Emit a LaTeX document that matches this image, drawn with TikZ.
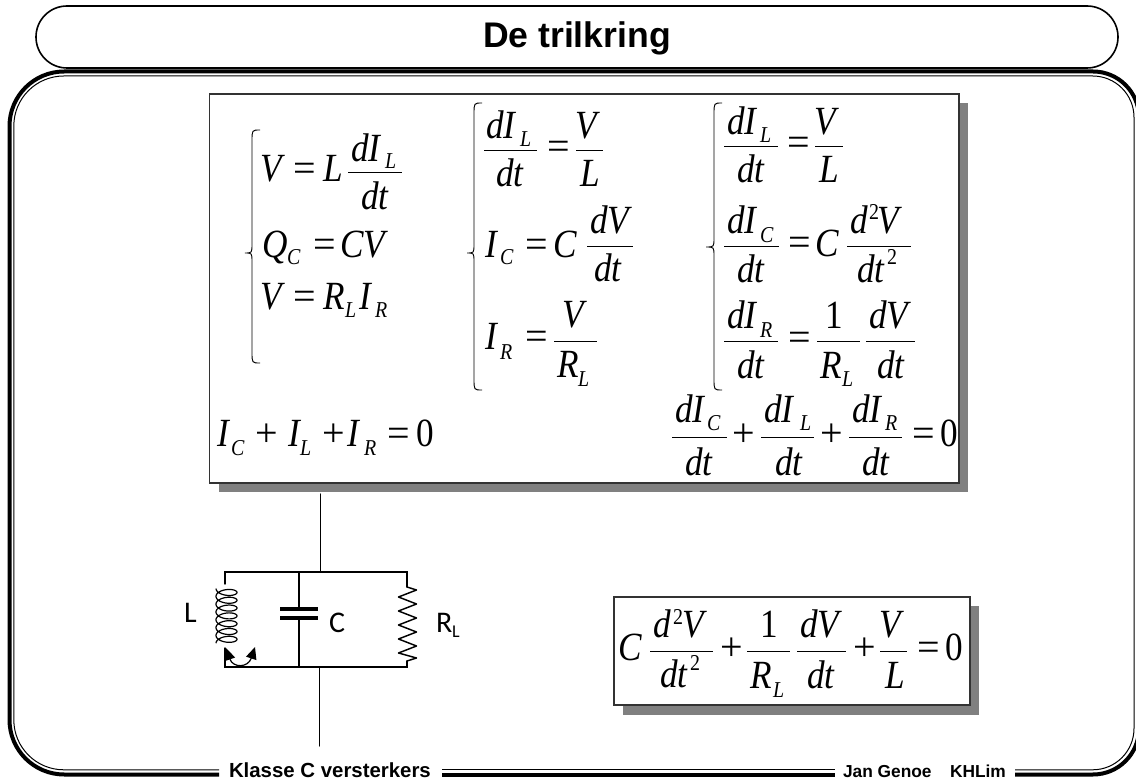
\documentclass[tikz,border=0pt]{standalone}
\usepackage{fontspec}
\usetikzlibrary{arrows.meta}
\setmainfont{Liberation Serif}
\newfontfamily\eqfont[FakeStretch=0.88]{Liberation Serif}
\newfontfamily\hd{Liberation Sans}
\newfontfamily\cb{Carlito}
\newcount\tnum
\tikzset{
  txt/.style={inner sep=0pt,outer sep=0pt,anchor=base west},
  framecurve/.style={line join=round},
  rule/.style={line width=0.75pt,black},
  wire/.style={line width=1.1pt,black,line cap=round},
  bracepath/.style={line width=0.7pt,black},
  eqbox/.style={draw=black!80,line width=0.8pt,fill=white},
  shadowbox/.style={fill=black!50,draw=none},
}
\newcommand{\putt}[4]{\global\advance\tnum by 1\relax
  \node[txt] (t\the\tnum) at (#2,#3) {#1#4};}
\newcommand{\eqbig}{\eqfont\fontsize{30}{30}\selectfont}
\newcommand{\eqsm}{\eqfont\fontsize{17}{17}\selectfont}
\newcommand{\mi}[3]{\putt{\eqbig\itshape}{#1}{#2}{#3}}
\newcommand{\mr}[3]{\putt{\eqbig}{#1}{#2}{#3}}
\newcommand{\op}[3]{\putt{\rmfamily\fontsize{30}{30}\selectfont}{#1}{#2}{#3}}
\newcommand{\si}[3]{\putt{\eqsm\itshape}{#1}{#2}{#3}}
\newcommand{\sr}[3]{\putt{\eqsm}{#1}{#2}{#3}}
\newcommand{\fl}[3]{\draw[rule] (#1,#3) -- (#2,#3);}
\newcommand{\brc}[6]{%
  \pgfmathsetmacro{\ba}{#4+11}\pgfmathsetmacro{\bb}{#5-9}\pgfmathsetmacro{\bc}{#5+9}\pgfmathsetmacro{\bd}{#6-11}%
  \draw[bracepath] (#3,#4) .. controls (#2,#4) and (#2,#4) .. (#2,\ba) -- (#2,\bb)
    .. controls (#2,#5) and (#2,#5) .. (#1,#5) .. controls (#2,#5) and (#2,#5) .. (#2,\bc)
    -- (#2,\bd) .. controls (#2,#6) and (#2,#6) .. (#3,#6);}
\begin{document}
\begin{tikzpicture}[x=0.75pt,y=-0.75pt]
\useasboundingbox (0,0) rectangle (1136,780);
\fill[white] (0,0) rectangle (1136,780);
% title
\draw[line width=1.2pt,black,rounded corners=23.2pt] (577,6) -- (1118,6) -- (1118,68) -- (36,68) -- (36,6) -- cycle;
\node[txt,anchor=base] (title) at (577,48) {\hd\bfseries\fontsize{26.7}{27}\selectfont De trilkring};
% frame
\draw[line width=3pt,black,framecurve,rounded corners=41pt] (219,774.5) -- (9.5,774.5) -- (9.5,71.5) -- (600,71.5) [rounded corners=34.5pt] -- (1139,71.5) -- (1139,774.5) -- (1015,774.5);
\draw[line width=0.75pt,black,framecurve,rounded corners=37.5pt] (219,769.8) -- (13.8,769.8) -- (13.8,76) -- (600,76) [rounded corners=31pt] -- (1134,76) -- (1134,769.8) -- (1015,769.8);
\draw[line width=3pt,black] (442,774.5) -- (835,774.5);
\draw[line width=0.75pt,black] (442,769.8) -- (835,769.8);
\node[txt] (foot1) at (229,777.5) {\hd\bfseries\fontsize{15.3}{16}\selectfont Klasse C versterkers};
\node[txt] (foot2) at (843,777.5) {\hd\bfseries\fontsize{13}{14}\selectfont Jan Genoe};
\node[txt] (foot3) at (950,777.5) {\hd\bfseries\fontsize{13}{14}\selectfont KHLim};
% box 1
\fill[shadowbox] (219,103) rectangle (968,492);
\draw[eqbox] (209.5,94) rectangle (959,483);
% box 2
\fill[shadowbox] (623,606) rectangle (979,715);
\draw[eqbox] (614,597) rectangle (970,705);
% braces
\brc{245}{252}{260}{130}{253}{363}
\brc{467}{474}{482}{103}{253}{390}
\brc{706}{714}{722}{103}{247}{390}
% column 1
\mi{260}{182}{V}\op{293}{182}{=}\mi{323}{182}{L}
\mi{351}{162}{dI}\si{385}{169}{L}\fl{348}{402}{173}\mi{361}{210}{dt}
\mi{262}{258}{Q}\si{287}{265}{C}\op{313}{258}{=}\mi{340}{258}{CV}
\mi{260}{310}{V}\op{293}{310}{=}\mi{323}{310}{R}\si{345}{318}{L}\mi{359}{310}{I}\si{375}{318}{R}
% column 2
\mi{486}{139}{dI}\si{520}{147}{L}\fl{484}{537}{151}\mi{496}{187}{dt}\op{547}{160}{=}
\mi{575}{139}{V}\fl{576}{603}{151}\mi{580}{187}{L}
\mi{485}{258}{I}\si{500}{265}{C}\op{525}{258}{=}\mi{553}{258}{C}
\mi{590}{234}{dV}\fl{587}{633}{247}\mi{594}{282}{dt}
\mi{485}{350}{I}\si{500}{360}{R}\op{525}{350}{=}
\mi{562}{328}{V}\fl{554}{597}{342}\mi{557}{378}{R}\si{578}{387}{L}
% column 3
\mi{727}{135}{dI}\si{760}{143}{L}\fl{724}{778}{147}\mi{737}{183}{dt}\op{787}{156}{=}
\mi{814}{135}{V}\fl{815}{843}{147}\mi{819}{183}{L}
\mi{727}{234}{dI}\si{760}{243}{C}\fl{724}{779}{247}\mi{737}{283}{dt}\op{788}{256}{=}\mi{815}{257}{C}
\mi{850}{234}{d}\sr{869}{220}{2}\mi{877}{234}{V}\fl{847}{911}{247}\mi{857}{283}{dt}\sr{887}{265}{2}
\mi{727}{329}{dI}\si{760}{338}{R}\fl{724}{778}{342}\mi{737}{379}{dt}\op{788}{351}{=}
\mr{825}{329}{1}\fl{817}{860}{342}\mi{820}{379}{R}\si{842}{387}{L}
\mi{869}{329}{dV}\fl{866}{915}{342}\mi{877}{379}{dt}
% bottom row
\mi{217}{447}{I}\si{231}{456}{C}\op{255}{447}{+}\mi{288}{447}{I}\si{300}{456}{L}\op{322}{447}{+}\mi{347}{447}{I}\si{364}{456}{R}\op{387}{447}{=}\mr{416}{447}{0}
\mi{675}{423}{dI}\si{707}{431}{C}\fl{672}{727}{438}\mi{685}{476}{dt}\op{732}{447}{+}
\mi{764}{423}{dI}\si{800}{431}{L}\fl{761}{814}{438}\mi{775}{476}{dt}\op{820}{447}{+}
\mi{852}{423}{dI}\si{885}{431}{R}\fl{849}{902}{438}\mi{862}{476}{dt}\op{912}{447}{=}\mr{940}{447}{0}
% box 2 equation
\mi{618}{660}{C}
\mi{653}{638}{d}\sr{673}{624}{2}\mi{682}{638}{V}\fl{650}{713}{651}\mi{660}{687}{dt}\sr{690}{670}{2}
\op{720}{660}{+}
\mr{760}{638}{1}\fl{747}{790}{651}\mi{750}{688}{R}\si{773}{697}{L}
\mi{800}{638}{dV}\fl{797}{846}{651}\mi{807}{688}{dt}
\op{853}{660}{+}
\mi{879}{638}{V}\fl{880}{907}{651}\mi{885}{688}{L}
\op{917}{660}{=}\mr{945}{660}{0}
% circuit
\coordinate (topT) at (320.3,494);\coordinate (topJ) at (320.3,572);
\coordinate (botJ) at (319.4,667);\coordinate (botT) at (319.4,746);
\coordinate (tl) at (225,572);\coordinate (tr) at (407,572);
\coordinate (bl) at (225,667);\coordinate (br) at (407,667);
\coordinate (ct) at (299,572);\coordinate (cb) at (299,667);
\coordinate (cp1) at (299,609);\coordinate (cp2) at (299,618);
\coordinate (lc1) at (225,584);\coordinate (lc2) at (225,648);
\coordinate (r1) at (407,587);\coordinate (r2) at (407,661);
\draw[wire] (topT) -- (topJ);
\draw[wire] (botJ) -- (botT);
\draw[wire] (lc1) -- (tl) -- (tr) -- (r1);
\draw[wire] (lc2) -- (bl) -- (br) -- (r2);
\draw[wire] (ct) -- (cp1);
\draw[wire] (cp2) -- (cb);
\draw[line width=3pt,black] (280,609) -- (318,609);
\draw[line width=3pt,black] (280,618) -- (318,618);
\draw[wire,line join=round] (r1) -- (416.5,590) -- (398.5,597) -- (416.5,604) -- (398.5,611) -- (416.5,618) -- (398.5,625) -- (416.5,632) -- (398.5,639) -- (416.5,646) -- (398.5,653) -- (416.5,658) -- (r2);
\draw[line width=0.9pt,black,smooth] plot[domain=-90:2430,samples=240,variable=\t] ({226.5+10.5*sin(\t)},{590.5+\t*0.0217+4.8*cos(\t)});
\coordinate (a1) at (226,648);\coordinate (a2) at (255,647);
\draw[line width=0.9pt,black,{Triangle[length=9pt,width=8pt]}-{Triangle[length=9pt,width=8pt]}] (a1) .. controls (233,668) and (248,668) .. (a2);
\node[txt] (lblL) at (184,623) {\cb\fontsize{22.5}{23}\selectfont L};
\node[txt] (lblC) at (329,633) {\cb\fontsize{22.5}{23}\selectfont C};
\node[txt] (lblR) at (436,632) {\cb\fontsize{22.5}{23}\selectfont R};
\node[txt] (lblRs) at (452,638) {\cb\fontsize{13.5}{14}\selectfont L};
\end{tikzpicture}
\end{document}
